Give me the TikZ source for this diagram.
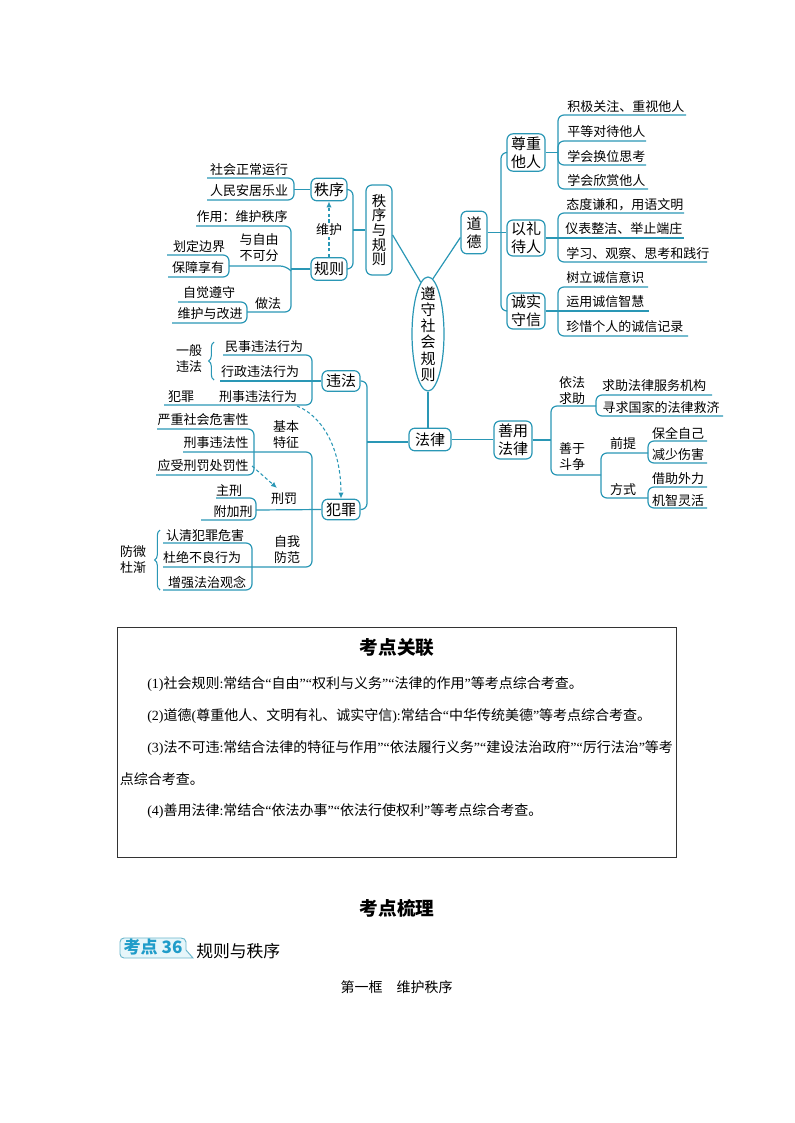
\documentclass[tikz,border=0pt]{standalone}
\usepackage{fontspec}
\setmainfont{Noto Sans CJK SC}
\newfontfamily\latf{Liberation Serif}
\usetikzlibrary{arrows.meta,decorations.pathreplacing,shapes.geometric}
\newcommand\lt[1]{{\latf #1}}
\definecolor{teal1}{HTML}{2A97B5}
\definecolor{badge}{HTML}{E6F6FA}
\definecolor{badgetext}{HTML}{1F9CC9}
\tikzset{
  x=0.75pt,y=-0.75pt,
  conn/.style={draw=teal1,line width=0.9pt,rounded corners=4.5pt},
  dashconn/.style={draw=teal1,line width=0.8pt,dash pattern=on 2.5pt off 1.8pt,-{Latex[length=4.5pt,width=4pt]}},
  bracen/.style={decorate,decoration={brace,amplitude=4pt,mirror},draw=teal1,line width=0.8pt},
  boxn/.style={draw=teal1,line width=0.9pt,rounded corners=4.5pt,inner sep=0pt,align=center,fill=white,font=\fontsize{11.25}{13.5}\selectfont},
  leaf/.style={inner sep=0pt,font=\fontsize{9.75}{11}\selectfont,text=black},
  lab/.style={inner sep=0pt,align=center,font=\fontsize{9.75}{12}\selectfont,text=black},
  body/.style={inner sep=0pt,anchor=west,font=\fontsize{10.5}{12}\selectfont,text=black},
}
\begin{document}
\begin{tikzpicture}
\useasboundingbox (0,0) rectangle (794,1123);
% ---- nodes
\node[draw=teal1,line width=0.9pt,fill=white,shape=ellipse,inner sep=0pt,minimum width=24pt,minimum height=85.5pt,
  label={[inner sep=0pt,align=center,font=\fontsize{11.25}{12.2}\selectfont]center:遵\\守\\社\\会\\规\\则}] (root) at (428,334) {};
\node[boxn,minimum width=19.5pt,minimum height=32pt] (daode) at (474,232.5) {道\\德};
\node[boxn,minimum width=28.5pt,minimum height=28pt] (zz) at (526,152.5) {尊重\\他人};
\node[boxn,minimum width=28.5pt,minimum height=27pt] (yl) at (526,238) {以礼\\待人};
\node[boxn,minimum width=28.5pt,minimum height=27pt] (cs) at (526,311) {诚实\\守信};
\node[boxn,minimum width=19.5pt,minimum height=67.5pt,font=\fontsize{10.8}{11}\selectfont] (zxgz) at (379,230) {秩\\序\\与\\规\\则};
\node[boxn,minimum width=27pt,minimum height=17pt] (zx) at (329,189.5) {秩序};
\node[boxn,minimum width=27pt,minimum height=17pt] (gz) at (329,269) {规则};
\node[boxn,minimum width=28.5pt,minimum height=15.5pt] (wf) at (341,381) {违法};
\node[boxn,minimum width=28.5pt,minimum height=15.5pt] (fz) at (341,509.5) {犯罪};
\node[boxn,minimum width=31.5pt,minimum height=17pt] (fl) at (430,439.5) {法律};
\node[boxn,minimum width=28.5pt,minimum height=28.5pt] (sy) at (513,440) {善用\\法律};

% ---- leaf texts (right)
\node[leaf,anchor=west] (a1) at (567,107) {积极关注、重视他人};
\node[leaf,anchor=west] (a2) at (567,131.5) {平等对待他人};
\node[leaf,anchor=west] (a3) at (567,156.5) {学会换位思考};
\node[leaf,anchor=west] (a4) at (567,181) {学会欣赏他人};
\node[leaf,anchor=west] (b1) at (566,205) {态度谦和，用语文明};
\node[leaf,anchor=west] (b2) at (565,229) {仪表整洁、举止端庄};
\node[leaf,anchor=west] (b3) at (566,254) {学习、观察、思考和践行};
\node[leaf,anchor=west] (c1) at (566,278) {树立诚信意识};
\node[leaf,anchor=west] (c2) at (566,302) {运用诚信智慧};
\node[leaf,anchor=west] (c3) at (566,327) {珍惜个人的诚信记录};
% ---- leaf texts (upper left)
\node[leaf] (d1) at (249,170) {社会正常运行};
\node[leaf] (d2) at (249,191) {人民安居乐业};
\node[leaf] (e1) at (242,217) {作用：维护秩序};
\node[lab] (e2) at (259,247.5) {与自由\\不可分};
\node[leaf] (e3) at (199,247) {划定边界};
\node[leaf] (e4) at (198,268) {保障享有};
\node[leaf] (e5) at (209,293) {自觉遵守};
\node[leaf] (e6) at (210,314) {维护与改进};
\node[leaf] (e7) at (268,304) {做法};
% ---- lower left
\node[lab] (f0) at (189,359) {一般\\违法};
\node[leaf] (f1) at (264,347) {民事违法行为};
\node[leaf] (f2) at (260,372) {行政违法行为};
\node[leaf] (f3) at (258,397) {刑事违法行为};
\node[leaf] (f4) at (181,397) {犯罪};
\node[leaf] (g1) at (203,420) {严重社会危害性};
\node[leaf] (g2) at (216,443) {刑事违法性};
\node[leaf] (g3) at (203,466) {应受刑罚处罚性};
\node[lab] (g4) at (286,435) {基本\\特征};
\node[leaf] (h1) at (229,491) {主刑};
\node[leaf] (h2) at (233,512) {附加刑};
\node[leaf] (h3) at (284,499) {刑罚};
\node[leaf] (i1) at (205,536) {认清犯罪危害};
\node[leaf] (i2) at (202,558) {杜绝不良行为};
\node[leaf] (i3) at (207,582) {增强法治观念};
\node[lab] (i4) at (287,550) {自我\\防范};
\node[lab] (i5) at (133,560) {防微\\杜渐};
% ---- lower right
\node[lab] (j1) at (572,390.5) {依法\\求助};
\node[leaf] (j2) at (654,386) {求助法律服务机构};
\node[leaf] (j3) at (661,408) {寻求国家的法律救济};
\node[lab] (k1) at (572,456.5) {善于\\斗争};
\node[leaf] (k2) at (623,444) {前提};
\node[leaf] (k3) at (623,490) {方式};
\node[leaf] (k4) at (678,433) {保全自己};
\node[leaf] (k5) at (678,455) {减少伤害};
\node[leaf] (k6) at (678,479) {借助外力};
\node[leaf] (k7) at (678,501) {机智灵活};

% ---- free ends of connectors
\coordinate (dt) at (501,232.5);
\coordinate (zb) at (353,230);
\coordinate (wb) at (367,442);
\coordinate (sj) at (551,440);
\coordinate (gj) at (291,269);
\coordinate (br1) at (558,152.5);

% ---- main connectors
\draw[conn] (root.85) -- (daode.200);
\draw[conn] (zxgz.-20) -- (root.98);
\draw[conn] (root.south) -- (root.south |- fl.north);
\draw[conn] (daode.east) -- (dt);
\draw[conn] (zz.west) -| (dt) |- (cs.west);
\draw[conn] (dt) -- (yl.west |- dt);
\draw[conn] (zx.east) -| (zb) |- (gz.east);
\draw[conn] (zb) -- (zxgz.west |- zb);
\draw[conn] (wf.east) -| (wb) |- (fz.east);
\draw[conn] (wb) -- (fl.west |- wb);
\draw[conn] (fl.east) -- (sy.west |- fl.east);
\draw[conn] (sy.east) -- (sj);

% ---- 尊重他人 branches
\draw[conn] (686,115) -- (558,115) -- (558,189) -- (648,189);
\draw[conn] (646,141) -- (558,141) -- (558,152);
\draw[conn] (558,152) -- (558,165) -- (646,165);
\draw[conn] (zz.east) -- (br1);
% ---- 以礼待人 branches
\draw[conn] (684,213) -- (558,213) -- (558,262) -- (707,262);
\draw[conn] (yl.east) -- (684,238);
% ---- 诚实守信 branches
\draw[conn] (648,287) -- (558,287) -- (558,336) -- (688,336);
\draw[conn] (cs.east) -- (649,311);
% ---- 秩序
\draw[conn] (207,178) -- (294,178) -- (294,200) -- (207,200);
\draw[conn] (294,189.5) -- (zx.west);
% ---- 规则
\draw[conn] (196,226) -- (291,226) -- (291,312) -- (247,312);
\draw[conn] (gz.west) -- (gj);
\draw[conn] (229,266) -- (286,266) -- (291,271);
\draw[conn] (167,255) -- (229,255) -- (229,277) -- (168,277);
\draw[conn] (178,302) -- (247,302) -- (247,323) -- (172,323);
\draw[dashconn] (gz.north) -- (zx.south);
\node[leaf,fill=white,inner ysep=1pt] (wh) at (329,230) {维护};
% ---- 违法
\draw[conn] (223,355) -- (312,355) -- (312,405) -- (164,405);
\draw[conn] (220,381) -- (wf.west);
\draw[dashconn] (297,406) .. controls (320,415) and (341,445) .. (fz.north);
\draw[bracen] (214,342) -- (214,380);
% ---- 犯罪
\draw[conn] (157,429) -- (254,429) -- (254,475) -- (156,475);
\draw[conn] (183,452) -- (312,452) -- (312,567) -- (163,567);
\draw[conn] (256,510) -- (fz.west);
\draw[conn] (216,498) -- (256,498) -- (256,520) -- (201,520);
\draw[conn] (163,543) -- (252,543) -- (252,590) -- (163,590);
\draw[dashconn] (252,466) -- (277,488);
\draw[bracen] (160,530) -- (160,590);
% ---- 善用法律
\draw[conn] (596,406) -- (551,406) -- (551,475) -- (601,475);
\draw[conn] (712,395) -- (596,395) -- (596,416) -- (723,416);
\draw[conn] (648,453) -- (601,453) -- (601,498) -- (648,498);
\draw[conn] (707,441) -- (648,441) -- (648,463) -- (707,463);
\draw[conn] (707,487) -- (648,487) -- (648,508) -- (707,508);

% ---- frame
\node[draw=black!80,line width=0.6pt,inner sep=0pt,minimum width=419.25pt,minimum height=172.5pt] (frame) at (396.5,742) {};
\node[inner sep=0pt,font=\fontsize{14}{16}\selectfont\bfseries] (t1) at (397,648) {考点关联};
\node[body] (l1) at (147,684) {\lt{(1)}社会规则\lt{:}常结合\lt{“}自由\lt{”“}权利与义务\lt{”“}法律的作用\lt{”}等考点综合考查。};
\node[body] (l2) at (147,716) {\lt{(2)}道德\lt{(}尊重他人、文明有礼、诚实守信\lt{):}常结合\lt{“}中华传统美德\lt{”}等考点综合考查。};
\node[body] (l3) at (147,748) {\lt{(3)}法不可违\lt{:}常结合法律的特征与作用\lt{”“}依法履行义务\lt{”“}建设法治政府\lt{”“}厉行法治\lt{”}等考};
\node[body] (l3b) at (119.5,779) {点综合考查。};
\node[body] (l4) at (147,811) {\lt{(4)}善用法律\lt{:}常结合\lt{“}依法办事\lt{”“}依法行使权利\lt{”}等考点综合考查。};
% ---- lower heads
\node[inner sep=0pt,font=\fontsize{14}{16}\selectfont\bfseries] (t2) at (397,908) {考点梳理};
\draw[draw=teal1!70,fill=badge,line width=0.7pt] (124,958) -- (193,958) -- (186,950) -- (186,942) to[out=90,in=0] (181,938) -- (124,938) to[out=180,in=90] (120,942) -- (120,954) to[out=270,in=180] (124,958) -- cycle;
\node[inner sep=0pt,font=\fontsize{12.8}{14}\selectfont\bfseries,text=badgetext] (bd) at (153,947.5) {考点 36};
\node[inner sep=0pt,anchor=west,font=\fontsize{12.6}{14}\selectfont] (t3) at (196,951) {规则与秩序};
\node[inner sep=0pt,font=\fontsize{10.5}{12}\selectfont] (t4) at (396.5,987) {第一框\hspace{1em}维护秩序};
\end{tikzpicture}
\end{document}
